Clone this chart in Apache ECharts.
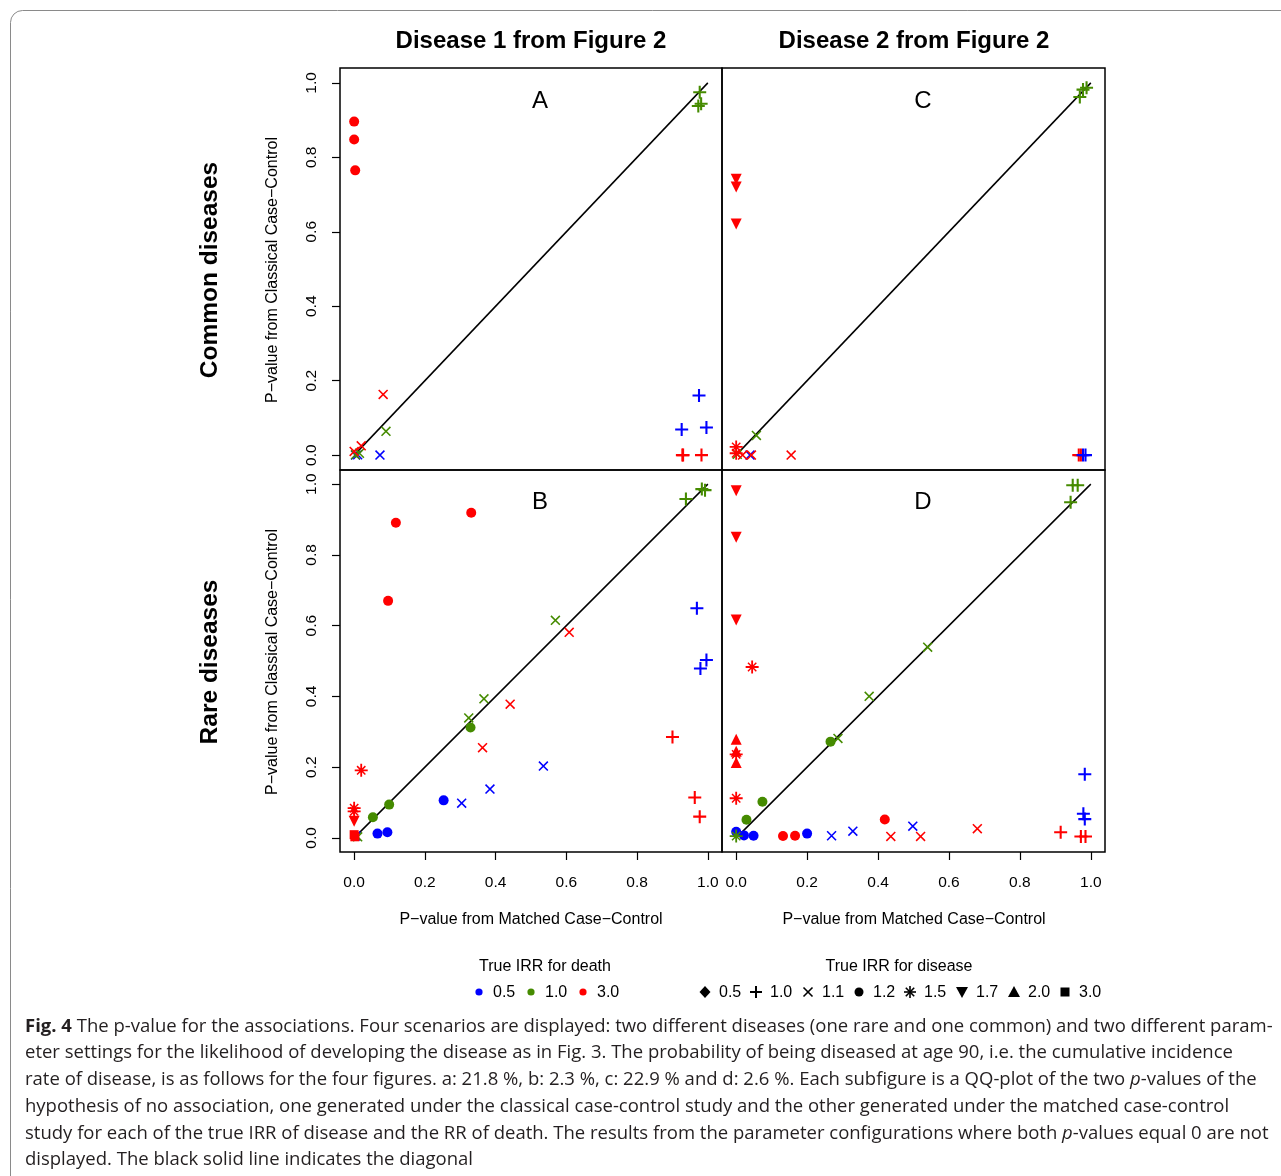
<!DOCTYPE html>
<html>
<head>
<meta charset="utf-8">
<script src="https://cdn.jsdelivr.net/npm/echarts@6/dist/echarts.min.js"></script>
<style>
html,body{margin:0;padding:0;background:#fff;}
#chart{width:1281px;height:1176px;}
</style>
</head>
<body>
<div id="chart"></div>
<script>
// ---------- DATA ----------
// rows: [true IRR for death, true IRR for disease, p matched, p classical]
const panelA = [
  [3.0, 1.2, 0.000, 0.896], [3.0, 1.2, 0.000, 0.848], [3.0, 1.2, 0.003, 0.765],
  [0.5, 1.1, 0.073, 0.000], [0.5, 1.1, 0.004, 0.000], [0.5, 1.1, 0.010, 0.001],
  [1.0, 1.1, 0.090, 0.064], [1.0, 1.1, 0.015, 0.005], [1.0, 1.1, 0.004, 0.001],
  [3.0, 1.1, 0.082, 0.163], [3.0, 1.1, 0.020, 0.025], [3.0, 1.1, 0.000, 0.010],
  [1.0, 1.0, 0.977, 0.975], [1.0, 1.0, 0.973, 0.938], [1.0, 1.0, 0.981, 0.944],
  [0.5, 1.0, 0.975, 0.160], [0.5, 1.0, 0.926, 0.069], [0.5, 1.0, 0.996, 0.074],
  [3.0, 1.0, 0.928, 0.000], [3.0, 1.0, 0.930, 0.000], [3.0, 1.0, 0.982, 0.000]
];
const panelB = [
  [0.5, 1.2, 0.253, 0.106], [0.5, 1.2, 0.066, 0.012], [0.5, 1.2, 0.094, 0.016],
  [0.5, 1.1, 0.304, 0.098], [0.5, 1.1, 0.384, 0.138], [0.5, 1.1, 0.535, 0.203], [0.5, 1.1, 0.005, 0.005],
  [0.5, 1.0, 0.969, 0.649], [0.5, 1.0, 0.996, 0.503], [0.5, 1.0, 0.979, 0.479],
  [1.0, 1.2, 0.099, 0.094], [1.0, 1.2, 0.053, 0.058], [1.0, 1.2, 0.329, 0.312],
  [1.0, 1.1, 0.324, 0.339], [1.0, 1.1, 0.367, 0.393], [1.0, 1.1, 0.569, 0.615], [1.0, 1.1, 0.010, 0.003],
  [1.0, 1.0, 0.938, 0.958], [1.0, 1.0, 0.983, 0.986], [1.0, 1.0, 0.992, 0.983],
  [3.0, 1.1, 0.441, 0.378], [3.0, 1.1, 0.363, 0.255], [3.0, 1.1, 0.608, 0.581],
  [3.0, 1.0, 0.900, 0.285], [3.0, 1.0, 0.963, 0.114], [3.0, 1.0, 0.977, 0.060],
  [3.0, 1.2, 0.118, 0.891], [3.0, 1.2, 0.331, 0.919], [3.0, 1.2, 0.096, 0.670],
  [3.0, 1.5, 0.020, 0.191], [3.0, 1.5, 0.000, 0.084], [3.0, 1.5, 0.000, 0.075],
  [3.0, 1.7, 0.000, 0.047],
  [3.0, 3.0, 0.000, 0.009], [3.0, 3.0, 0.002, 0.003]
];
const panelC = [
  [1.0, 1.1, 0.057, 0.053], [1.0, 1.1, 0.003, 0.002],
  [0.5, 1.1, 0.039, 0.000],
  [3.0, 1.1, 0.018, 0.000], [3.0, 1.1, 0.043, 0.000], [3.0, 1.1, 0.155, 0.000],
  [3.0, 1.5, 0.000, 0.022], [3.0, 1.5, 0.000, 0.005],
  [3.0, 1.7, 0.000, 0.741], [3.0, 1.7, 0.000, 0.720], [3.0, 1.7, 0.000, 0.621],
  [1.0, 1.0, 0.988, 0.987], [1.0, 1.0, 0.978, 0.982], [1.0, 1.0, 0.969, 0.962],
  [3.0, 1.0, 0.966, 0.000], [3.0, 1.0, 0.972, 0.000],
  [0.5, 1.0, 0.978, 0.000], [0.5, 1.0, 0.985, 0.000]
];
const panelD = [
  [0.5, 1.2, 0.000, 0.017], [0.5, 1.2, 0.022, 0.007], [0.5, 1.2, 0.049, 0.006], [0.5, 1.2, 0.200, 0.012],
  [0.5, 1.1, 0.269, 0.006], [0.5, 1.1, 0.329, 0.019], [0.5, 1.1, 0.498, 0.033],
  [0.5, 1.0, 0.983, 0.180], [0.5, 1.0, 0.979, 0.068], [0.5, 1.0, 0.983, 0.053],
  [1.0, 1.2, 0.266, 0.272], [1.0, 1.2, 0.074, 0.102], [1.0, 1.2, 0.029, 0.051],
  [1.0, 1.1, 0.375, 0.400], [1.0, 1.1, 0.287, 0.281], [1.0, 1.1, 0.540, 0.539],
  [1.0, 1.5, 0.000, 0.005],
  [1.0, 1.0, 0.949, 0.997], [1.0, 1.0, 0.963, 0.997], [1.0, 1.0, 0.943, 0.949],
  [3.0, 1.2, 0.132, 0.005], [3.0, 1.2, 0.166, 0.006], [3.0, 1.2, 0.419, 0.052],
  [3.0, 1.1, 0.436, 0.004], [3.0, 1.1, 0.520, 0.004], [3.0, 1.1, 0.680, 0.026],
  [3.0, 1.0, 0.915, 0.016], [3.0, 1.0, 0.972, 0.004], [3.0, 1.0, 0.985, 0.004],
  [3.0, 1.7, 0.000, 0.981], [3.0, 1.7, 0.000, 0.850], [3.0, 1.7, 0.000, 0.616],
  [3.0, 2.0, 0.000, 0.279], [3.0, 2.0, 0.000, 0.245], [3.0, 2.0, 0.000, 0.213],
  [3.0, 1.5, 0.045, 0.483], [3.0, 1.5, 0.000, 0.236], [3.0, 1.5, 0.000, 0.112]
];
const diagonal = [[0, 0], [1, 1]];
const tickValues = [0, 0.2, 0.4, 0.6, 0.8, 1.0];
const deathLevels = ['0.5', '1.0', '3.0'];
const diseaseLevels = ['0.5', '1.0', '1.1', '1.2', '1.5', '1.7', '2.0', '3.0'];
const colTitles = ['Disease 1 from Figure 2', 'Disease 2 from Figure 2'];
const rowTitles = ['Common diseases', 'Rare diseases'];
const xTitle = 'P\u2212value from Matched Case\u2212Control';
const yTitle = 'P\u2212value from Classical Case\u2212Control';
const panelLetters = ['A', 'B', 'C', 'D'];

// ---------- STYLE ----------
const deathColors = {'0.5': '#0000FF', '1.0': '#458B00', '3.0': '#FF0000'};
const PLUS = 'path://M42,0L58,0L58,42L100,42L100,58L58,58L58,100L42,100L42,58L0,58L0,42L42,42Z';
const CROSS = 'path://M0,11L11,0L100,89L89,100ZM89,0L100,11L11,100L0,89Z';
const STAR = 'path://M43,0L57,0L57,43L100,43L100,57L57,57L57,100L43,100L43,57L0,57L0,43L43,43Z' +
             'M14,22L22,14L86,78L78,86ZM78,14L86,22L22,86L14,78Z';
const DOWN = 'path://M0,0L100,0L50,87Z';
const UP = 'path://M50,0L100,87L0,87Z';
const shapes = {
  '0.5': ['diamond', 11], '1.0': [PLUS, 13], '1.1': [CROSS, 10], '1.2': ['circle', 10],
  '1.5': [STAR, 13], '1.7': [DOWN, 11], '2.0': [UP, 11], '3.0': ['rect', 9]
};

const FONT = '"Liberation Sans", Arial, Helvetica, sans-serif';
const grids = [
  {left: 340, top: 68, width: 382, height: 402},   // A
  {left: 340, top: 470, width: 382, height: 382},  // B
  {left: 722, top: 68, width: 383, height: 402},   // C
  {left: 722, top: 470, width: 383, height: 382}   // D
];
const panels = [panelA, panelB, panelC, panelD];

const gridOpts = grids.map(g => Object.assign({show: true, borderColor: '#000', borderWidth: 1.5, backgroundColor: 'transparent'}, g));
const xAxes = grids.map((g, i) => ({
  type: 'value', gridIndex: i, min: -0.04, max: 1.04, position: 'bottom',
  splitLine: {show: false}, axisLine: {show: false, onZero: false},
  axisTick: {show: i === 1 || i === 3, customValues: tickValues, length: 8, lineStyle: {color: '#000', width: 1.2}},
  axisLabel: {show: i === 1 || i === 3, customValues: tickValues, margin: 23, fontFamily: FONT, fontSize: 15.5, color: '#000',
              formatter: v => v.toFixed(1)}
}));
const yAxes = grids.map((g, i) => ({
  type: 'value', gridIndex: i, min: -0.04, max: 1.04, position: 'left',
  splitLine: {show: false}, axisLine: {show: false, onZero: false},
  axisTick: {show: i === 0 || i === 1, customValues: tickValues, length: 8, lineStyle: {color: '#000', width: 1.2}},
  axisLabel: {show: i === 0 || i === 1, customValues: tickValues, margin: 20, rotate: 90, fontFamily: FONT, fontSize: 15.5, color: '#000',
              formatter: v => v.toFixed(1)}
}));

const series = [];
panels.forEach((pts, i) => {
  series.push({
    type: 'line', xAxisIndex: i, yAxisIndex: i, data: diagonal, symbol: 'none', silent: true,
    lineStyle: {color: '#000', width: 1.5}, z: 1
  });
  series.push({
    type: 'scatter', xAxisIndex: i, yAxisIndex: i, z: 2,
    data: pts.map(r => {
      const d = r[0].toFixed(1), s = r[1].toFixed(1);
      return {value: [r[2], r[3]], symbol: shapes[s][0], symbolSize: shapes[s][1], itemStyle: {color: deathColors[d], opacity: 1}};
    })
  });
});

// ---------- GRAPHICS (titles, legend, caption, frame) ----------
const graphic = [];
graphic.push({type: 'rect', shape: {x: 10.5, y: 10.5, width: 1300, height: 1220, r: 12},
  style: {fill: 'none', stroke: '#8a8a8a', lineWidth: 1}, silent: true});
function txt(x, y, text, size, weight, rot, align) {
  return {type: 'text', x: x, y: y, rotation: rot || 0, style: {text: text, fontSize: size, fontFamily: FONT,
    fontWeight: weight || 'normal', fill: '#000', textAlign: align || 'center', textVerticalAlign: 'middle'}};
}
graphic.push(txt(531, 41, colTitles[0], 24, 'bold'));
graphic.push(txt(914, 41, colTitles[1], 24, 'bold'));
graphic.push(txt(210, 270, rowTitles[0], 24.5, 'bold', Math.PI / 2));
graphic.push(txt(210, 662, rowTitles[1], 24.5, 'bold', Math.PI / 2));
graphic.push(txt(273, 270, yTitle, 16, 'normal', Math.PI / 2));
graphic.push(txt(273, 662, yTitle, 16, 'normal', Math.PI / 2));
graphic.push(txt(531, 920, xTitle, 16));
graphic.push(txt(914, 920, xTitle, 16));
graphic.push(txt(540, 101, panelLetters[0], 24));
graphic.push(txt(540, 502, panelLetters[1], 24));
graphic.push(txt(923, 101, panelLetters[2], 24));
graphic.push(txt(923, 502, panelLetters[3], 24));

// legend: death colours
graphic.push(txt(545, 967, 'True IRR for death', 16));
const deathX = [479, 531, 583];
deathLevels.forEach((lv, k) => {
  graphic.push({type: 'circle', shape: {cx: deathX[k], cy: 992, r: 3.6}, style: {fill: deathColors[lv]}});
  graphic.push(txt(deathX[k] + 14, 993, lv, 16, 'normal', 0, 'left'));
});
// legend: disease shapes
graphic.push(txt(899, 967, 'True IRR for disease', 16));
const disX = [705, 756, 808, 859, 910, 962, 1014, 1065];
const cy = 992;
function bar(x1, y1, x2, y2, w) { return {type: 'line', shape: {x1: x1, y1: y1, x2: x2, y2: y2}, style: {stroke: '#000', lineWidth: w || 2}}; }
diseaseLevels.forEach((lv, k) => {
  const x = disX[k];
  if (lv === '0.5') graphic.push({type: 'polygon', shape: {points: [[x, cy - 6], [x + 5.5, cy], [x, cy + 6], [x - 5.5, cy]]}, style: {fill: '#000'}});
  if (lv === '1.0') { graphic.push(bar(x - 6, cy, x + 6, cy)); graphic.push(bar(x, cy - 6, x, cy + 6)); }
  if (lv === '1.1') { graphic.push(bar(x - 4.5, cy - 4.5, x + 4.5, cy + 4.5, 1.6)); graphic.push(bar(x - 4.5, cy + 4.5, x + 4.5, cy - 4.5, 1.6)); }
  if (lv === '1.2') graphic.push({type: 'circle', shape: {cx: x, cy: cy, r: 4.5}, style: {fill: '#000'}});
  if (lv === '1.5') { graphic.push(bar(x - 6, cy, x + 6, cy, 1.6)); graphic.push(bar(x, cy - 6, x, cy + 6, 1.6));
                      graphic.push(bar(x - 4.2, cy - 4.2, x + 4.2, cy + 4.2, 1.6)); graphic.push(bar(x - 4.2, cy + 4.2, x + 4.2, cy - 4.2, 1.6)); }
  if (lv === '1.7') graphic.push({type: 'polygon', shape: {points: [[x - 6, cy - 5], [x + 6, cy - 5], [x, cy + 6]]}, style: {fill: '#000'}});
  if (lv === '2.0') graphic.push({type: 'polygon', shape: {points: [[x - 6, cy + 5], [x + 6, cy + 5], [x, cy - 6]]}, style: {fill: '#000'}});
  if (lv === '3.0') graphic.push({type: 'rect', shape: {x: x - 4.5, y: cy - 4.5, width: 9, height: 9}, style: {fill: '#000'}});
  graphic.push(txt(x + 14, cy + 1, lv, 16, 'normal', 0, 'left'));
});

// caption
const CAP = '"Open Sans", "Lato", sans-serif';
const CAPSIZE = 18.5;
const capLines = [
  '{b|Fig. 4} The p-value for the associations. Four scenarios are displayed: two different diseases (one rare and one common) and two different param-',
  'eter settings for the likelihood of developing the disease as in Fig. 3. The probability of being diseased at age 90, i.e. the cumulative incidence',
  'rate of disease, is as follows for the four figures. a: 21.8 %, b: 2.3 %, c: 22.9 % and d: 2.6 %. Each subfigure is a QQ-plot of the two {i|p}-values of the',
  'hypothesis of no association, one generated under the classical case-control study and the other generated under the matched case-control',
  'study for each of the true IRR of disease and the RR of death. The results from the parameter configurations where both {i|p}-values equal 0 are not',
  'displayed. The black solid line indicates the diagonal'
];
const capY = [1027, 1053, 1080, 1107, 1134, 1160];
capLines.forEach((ln, k) => {
  graphic.push({type: 'text', x: 25, y: capY[k], style: {
    text: ln, fontSize: CAPSIZE, fontFamily: CAP, fill: '#231f20', textAlign: 'left', textVerticalAlign: 'middle',
    rich: {b: {fontSize: CAPSIZE, fontFamily: CAP, fontWeight: 'bold', fill: '#231f20'},
           i: {fontSize: CAPSIZE, fontFamily: CAP, fontStyle: 'italic', fill: '#231f20'}}
  }});
});

const chart = echarts.init(document.getElementById('chart'), null, {renderer: 'canvas'});
chart.setOption({
  animation: false,
  backgroundColor: '#fff',
  grid: gridOpts,
  xAxis: xAxes,
  yAxis: yAxes,
  series: series,
  graphic: graphic
});
</script>
</body>
</html>
